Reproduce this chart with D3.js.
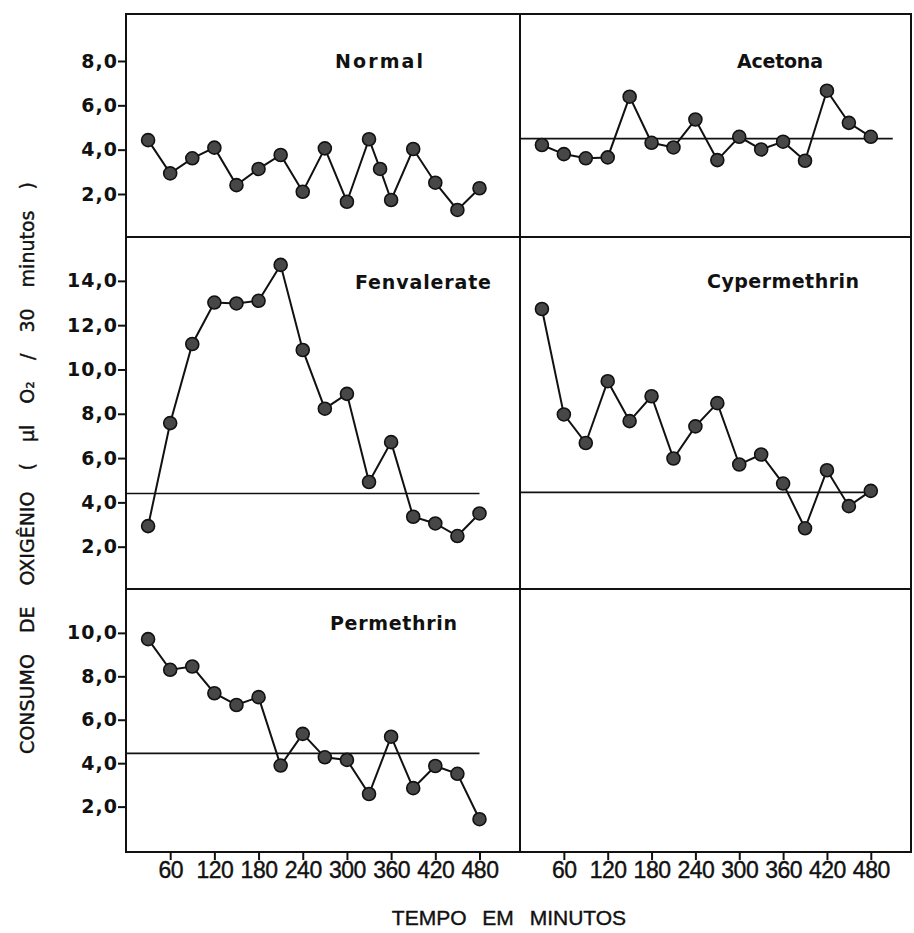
<!DOCTYPE html>
<html>
<head>
<meta charset="utf-8">
<script src="https://d3js.org/d3.v7.min.js"></script>
<style>
  body { margin: 0; background: #fff; }
  svg { display: block; }
  .tick line { stroke: #111; stroke-width: 2; }
  .domain { display: none; }
</style>
</head>
<body>
<svg id="chart"></svg>
<script>
// tempos (minutos)
const times = [30, 60, 90, 120, 150, 180, 210, 240, 270, 300, 330, 360, 390, 420, 450, 480]
const normalTimes = [30, 60, 90, 120, 150, 180, 210, 240, 270, 300, 330, 345, 360, 390, 420, 450, 480]

// consumo de oxigenio (ul O2 / 30 min)
const normal = [4.43, 2.93, 3.61, 4.09, 2.40, 3.13, 3.76, 2.10, 4.06, 1.65, 4.47, 3.13, 1.73, 4.03, 2.51, 1.28, 2.26]
const acetona = [4.21, 3.80, 3.61, 3.65, 6.39, 4.31, 4.10, 5.36, 3.53, 4.58, 4.01, 4.36, 3.50, 6.66, 5.21, 4.58]
const fenvalerate = [2.93, 7.58, 11.15, 13.02, 12.98, 13.10, 14.72, 10.88, 8.23, 8.90, 4.92, 6.72, 3.35, 3.05, 2.48, 3.50]
const cypermethrin = [12.73, 7.97, 6.68, 9.47, 7.67, 8.79, 5.98, 7.43, 8.48, 5.71, 6.16, 4.85, 2.83, 5.45, 3.83, 4.52]
const permethrin = [9.71, 8.30, 8.45, 7.22, 6.68, 7.04, 3.89, 5.35, 4.27, 4.15, 2.58, 5.22, 2.85, 3.87, 3.51, 1.42]

// linhas de referencia (nivel, ate o tempo)
const refLevels = { Acetona: [4.5, 510], Fenvalerate: [4.4, 480], Cypermethrin: [4.45, 488], Permethrin: [4.45, 480] }

const xTicks = [60, 120, 180, 240, 300, 360, 420, 480]
const yTicksTop = [2, 4, 6, 8]
const yTicksMid = [2, 4, 6, 8, 10, 12, 14]
const yTicksBot = [2, 4, 6, 8, 10]

const W = 914, H = 933
const cols = [[126, 520], [520, 911]]
const rows = [
  { y: [14, 237], dom: [0.06, 10.12], ticks: yTicksTop },
  { y: [237, 589], dom: [0.09, 15.98], ticks: yTicksMid },
  { y: [589, 852], dom: [-0.09, 12.02], ticks: yTicksBot }
]

const panels = [
  { name: "Normal", col: 0, row: 0, t: normalTimes, v: normal, tx: 209, ty: 54, tw: 88 },
  { name: "Acetona", col: 1, row: 0, t: times, v: acetona, tx: 217, ty: 54, tw: 86 },
  { name: "Fenvalerate", col: 0, row: 1, t: times, v: fenvalerate, tx: 229, ty: 52, tw: 136 },
  { name: "Cypermethrin", col: 1, row: 1, t: times, v: cypermethrin, tx: 187, ty: 51, tw: 152 },
  { name: "Permethrin", col: 0, row: 2, t: times, v: permethrin, tx: 204, ty: 41, tw: 127 }
]

const svg = d3.select("#chart").attr("width", W).attr("height", H)
svg.append("rect").attr("width", W).attr("height", H).attr("fill", "#fff")

const xScales = cols.map(c => d3.scaleLinear().domain([0, 535]).range(c))
const yScales = rows.map(r => d3.scaleLinear().domain(r.dom).range([r.y[1], r.y[0]]))
const fmt = d => d.toFixed(1).replace(".", ",")

// eixos y (coluna esquerda)
rows.forEach((r, i) => {
  const g = svg.append("g")
    .attr("transform", "translate(" + cols[0][0] + ",0)")
    .call(d3.axisLeft(yScales[i]).tickValues(r.ticks).tickFormat(fmt).tickSize(8).tickPadding(0))
  g.selectAll("text")
    .attr("font-family", "DejaVu Sans")
    .attr("font-weight", "bold")
    .attr("font-size", 19)
    .attr("letter-spacing", 1)
    .attr("fill", "#111")
})

// eixos x
xScales.forEach(xs => {
  const g = svg.append("g")
    .attr("transform", "translate(0," + rows[2].y[1] + ")")
    .call(d3.axisBottom(xs).tickValues(xTicks).tickSize(8).tickPadding(2))
  g.selectAll("text")
    .attr("font-family", "Liberation Sans")
    .attr("font-size", 23)
    .attr("letter-spacing", -0.5)
    .attr("stroke", "#111")
    .attr("stroke-width", 0.4)
    .attr("fill", "#111")
})

// paineis
panels.forEach(p => {
  const xs = xScales[p.col], ys = yScales[p.row]
  const x0 = cols[p.col][0], y0 = rows[p.row].y[0]
  const g = svg.append("g")
  const ref = refLevels[p.name]
  if (ref) {
    g.append("line")
      .attr("x1", xs(0)).attr("x2", xs(ref[1]))
      .attr("y1", ys(ref[0])).attr("y2", ys(ref[0]))
      .attr("stroke", "#111").attr("stroke-width", 1.6)
  }
  const pts = p.t.map((t, i) => [t, p.v[i]])
  g.append("path")
    .datum(pts)
    .attr("fill", "none")
    .attr("stroke", "#111")
    .attr("stroke-width", 2)
    .attr("d", d3.line().x(d => xs(d[0])).y(d => ys(d[1])))
  g.selectAll("circle")
    .data(pts)
    .enter()
    .append("circle")
    .attr("cx", d => xs(d[0]))
    .attr("cy", d => ys(d[1]))
    .attr("r", 6.5)
    .attr("fill", "#474747")
    .attr("stroke", "#111")
    .attr("stroke-width", 1.6)
  g.append("text")
    .attr("x", x0 + p.tx).attr("y", y0 + p.ty)
    .attr("textLength", p.tw).attr("lengthAdjust", "spacing")
    .attr("font-family", "DejaVu Sans")
    .attr("font-weight", "bold")
    .attr("font-size", 19)
    .attr("fill", "#111")
    .text(p.name)
})

// moldura
const frame = svg.append("g").attr("fill", "none").attr("stroke", "#111").attr("stroke-width", 2)
frame.append("rect")
  .attr("x", cols[0][0]).attr("y", rows[0].y[0])
  .attr("width", cols[1][1] - cols[0][0]).attr("height", rows[2].y[1] - rows[0].y[0])
frame.append("line").attr("x1", cols[1][0]).attr("x2", cols[1][0]).attr("y1", rows[0].y[0]).attr("y2", rows[2].y[1])
rows.slice(1).forEach(r => {
  frame.append("line").attr("x1", cols[0][0]).attr("x2", cols[1][1]).attr("y1", r.y[0]).attr("y2", r.y[0])
})

// titulos dos eixos
svg.append("text")
  .attr("transform", "translate(34,468) rotate(-90)")
  .attr("text-anchor", "middle")
  .attr("font-family", "DejaVu Sans")
  .attr("font-size", 19)
  .attr("word-spacing", 15)
  .attr("stroke", "#111")
  .attr("stroke-width", 0.4)
  .attr("fill", "#111")
  .text("CONSUMO DE OXIGÊNIO ( µl O₂ / 30 minutos )")

svg.append("text")
  .attr("x", 509).attr("y", 925)
  .attr("text-anchor", "middle")
  .attr("font-family", "Liberation Sans")
  .attr("font-size", 21)
  .attr("word-spacing", 10)
  .attr("stroke", "#111")
  .attr("stroke-width", 0.4)
  .attr("fill", "#111")
  .text("TEMPO EM MINUTOS")
</script>
</body>
</html>
